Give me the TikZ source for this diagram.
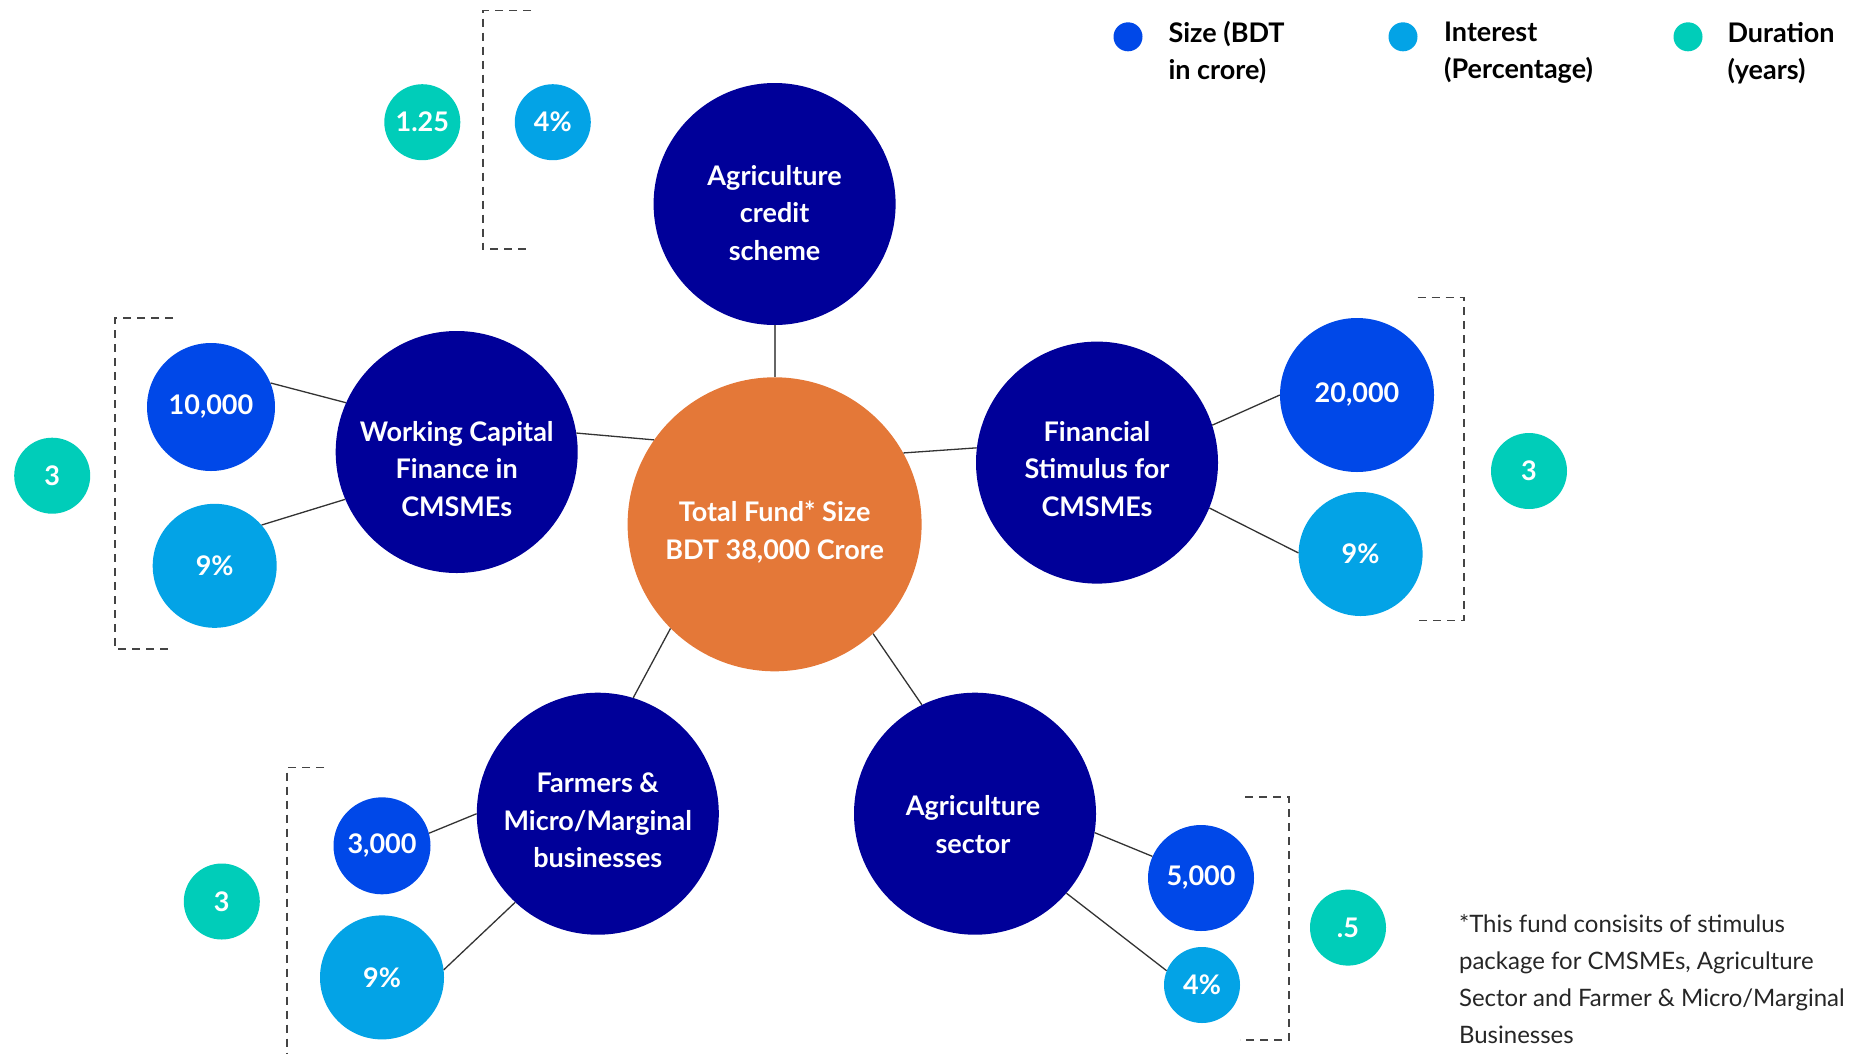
\documentclass[tikz,border=0pt]{standalone}
\usepackage{fontspec}
\setmainfont{Lato}
\definecolor{navy}{HTML}{000099}
\definecolor{orng}{HTML}{E47838}
\definecolor{sizeblue}{HTML}{0048E8}
\definecolor{intblue}{HTML}{03A3E6}
\definecolor{durteal}{HTML}{00CDB9}
\definecolor{linegray}{HTML}{333333}
\definecolor{dashgray}{HTML}{444444}
\begin{document}
\begin{tikzpicture}[x=1pt,y=-1pt,
  bigc/.style={circle, fill=navy, minimum size=242pt, inner sep=0pt},
  totc/.style={circle, fill=orng, minimum size=294pt, inner sep=0pt},
  bigtxt/.style={text=white, align=center, inner sep=0pt, font=\bfseries\fontsize{27}{37.5}\selectfont},
  numc/.style={circle, inner sep=0pt, text=white, font=\bfseries\fontsize{27}{30}\selectfont},
  szc/.style={numc, fill=sizeblue},
  inc/.style={numc, fill=intblue},
  duc/.style={numc, fill=durteal, minimum size=76pt},
  dotc/.style={circle, inner sep=0pt, minimum size=29pt},
  legtxt/.style={anchor=west, align=left, font=\bfseries\fontsize{27}{37}\selectfont, text=black},
  conn/.style={draw=linegray, line width=1.3pt},
  bracket/.style={draw=dashgray, line width=1.4pt, dash pattern=on 8pt off 6pt}
]
\useasboundingbox (0,0) rectangle (1860,1053);

% central and main nodes
\node[totc] (tot) at (774.6,524.3) {};
\node[bigc] (agc) at (774.6,204) {};
\node[bigc] (wc) at (456.7,452) {};
\node[bigc] (fin) at (1097,462.6) {};
\node[bigc] (farm) at (597.8,813.7) {};
\node[bigc] (agsec) at (975,813.7) {};

\node[bigtxt] (tott) at ([yshift=-8pt]tot.center) {Total Fund* Size\\BDT 38,000 Crore};
\node[bigtxt] (agct) at ([yshift=-9pt]agc.center) {Agriculture\\credit\\scheme};
\node[bigtxt] (wct) at ([yshift=-17pt]wc.center) {Working Capital\\Finance in\\CMSMEs};
\node[bigtxt] (fint) at ([yshift=-6pt]fin.center) {Financial\\Stimulus for\\CMSMEs};
\node[bigtxt] (farmt) at ([yshift=-7pt]farm.center) {Farmers \&\\Micro/Marginal\\businesses};
\node[bigtxt] (agsect) at ([yshift=-11pt,xshift=-2pt]agsec.center) {Agriculture\\sector};

% value nodes
\node[duc] (d0) at (422.3,122.2) {1.25};
\node[inc, minimum size=76pt] (i0) at (552.8,122.2) {4\%};

\node[szc, minimum size=128pt] (s1) at (211,407) {10,000};
\node[inc, minimum size=124pt] (i1) at (214.7,565.8) {9\%};
\node[duc] (d1) at (52.2,475.7) {3};

\node[szc, minimum size=154pt] (s2) at (1357,395) {20,000};
\node[inc, minimum size=124pt] (i2) at (1360.6,554) {9\%};
\node[duc] (d2) at (1529,471) {3};

\node[szc, minimum size=97pt] (s3) at (382,845.8) {3,000};
\node[inc, minimum size=124pt] (i3) at (382,977.4) {9\%};
\node[duc] (d3) at (221.8,901.5) {3};

\node[szc, minimum size=106pt] (s4) at (1201,878) {5,000};
\node[inc, minimum size=76pt] (i4) at (1202,985) {4\%};
\node[duc] (d4) at (1348,927.6) {.5};

% connectors to centre
\draw[draw=black!60, line width=1.8pt] (agc.south) -- (tot.north);
\draw[conn] (wc.9.4) -- (tot.145);
\draw[conn] (tot.29.2) -- (fin.173.9);
\draw[conn] (tot.225.7) -- (farm.73.5);
\draw[conn] (tot.-48.6) -- (agsec.116);

% connectors to values
\draw[conn] (s1.22.4) -- (wc.156.2);
\draw[conn] (i1.41.9) -- (wc.203.3);
\draw[conn] (fin.18.7) -- (s2.180);
\draw[conn] (fin.-22.8) -- (i2.179);
\draw[conn] (s3.15.4) -- (farm.180);
\draw[conn] (i3.7.8) -- (farm.227.8);
\draw[conn] (agsec.-9.6) -- (s4.156.3);
\draw[conn] (agsec.-41.1) -- (i4.158.8);

% dashed brackets
\coordinate (b0a) at (531,10.7);
\coordinate (b0b) at (482.8,10.7);
\coordinate (b0c) at (482.8,249);
\coordinate (b0d) at (531,249);
\draw[bracket] (b0a) -- (b0b) -- (b0c) -- (b0d);

\coordinate (b1a) at (173,318);
\coordinate (b1b) at (115,318);
\coordinate (b1c) at (115,649);
\coordinate (b1d) at (173,649);
\draw[bracket] (b1a) -- (b1b) -- (b1c) -- (b1d);

\coordinate (b2a) at (1417.5,297.7);
\coordinate (b2b) at (1463.8,297.7);
\coordinate (b2c) at (1463.8,620.4);
\coordinate (b2d) at (1417.5,620.4);
\draw[bracket] (b2a) -- (b2b) -- (b2c) -- (b2d);

\coordinate (b3a) at (324,767.5);
\coordinate (b3b) at (287,767.5);
\coordinate (b3c) at (287,1053);
\draw[bracket] (b3a) -- (b3b) -- (b3c);

\coordinate (b4a) at (1245,797);
\coordinate (b4b) at (1289,797);
\coordinate (b4c) at (1289,1040);
\coordinate (b4d) at (1240,1040);
\draw[bracket] (b4a) -- (b4b) -- (b4c) -- (b4d);

% legend
\node[dotc, fill=sizeblue] (l1) at (1128,36.8) {};
\node[legtxt] (l1t) at (1165,53) {Size (BDT\\in crore)};
\node[dotc, fill=intblue] (l2) at (1403,36.8) {};
\node[legtxt] (l2t) at (1440.6,53) {Interest\\(Percentage)};
\node[dotc, fill=durteal] (l3) at (1688,36.8) {};
\node[legtxt] (l3t) at (1724,53) {Duration\\(years)};

% footnote
\node[anchor=west, align=left, text=black!85, font=\fontsize{24}{37}\selectfont] (note) at (1455.5,979.5)
  {*This fund consisits of stimulus\\package for CMSMEs, Agriculture\\Sector and Farmer \& Micro/Marginal\\Businesses};
\end{tikzpicture}
\end{document}
